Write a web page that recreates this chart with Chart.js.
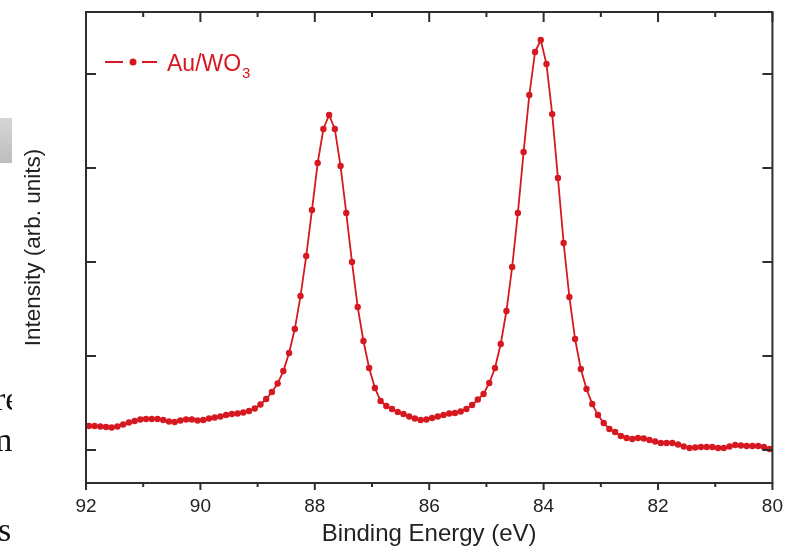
<!DOCTYPE html>
<html>
<head>
<meta charset="utf-8">
<title>Au 4f XPS</title>
<script src="https://cdn.jsdelivr.net/npm/chart.js@4.4.1/dist/chart.umd.min.js"></script>
<style>
  body { margin: 0; background: #fff; }
  #wrap { position: relative; width: 787px; height: 552px; overflow: hidden; }
  #xps { position: absolute; left: 0; top: 0; }
  .edge { position: absolute; left: 0; top: 0; width: 12px; height: 552px; overflow: hidden; }
  .edge .bar { position: absolute; left: 0; top: 118px; width: 12px; height: 45px; background: linear-gradient(#d6d6d6, #bdbdbd); }
  .edge span { position: absolute; font: 34px/34px 'Liberation Serif', 'Times New Roman', serif; color: #111; white-space: nowrap; }
</style>
</head>
<body>
<div id="wrap">
  <canvas id="xps" width="787" height="552"></canvas>
  <div class="edge">
    <div class="bar"></div>
    <span style="left:-6px; top:382px">re</span>
    <span style="left:-14px; top:423px">m</span>
    <span style="left:-2px; top:513px">s</span>
  </div>
</div>
<script>
// Au 4f region, 0.1 eV steps
const bindingEnergy = [
  91.95, 91.85, 91.75, 91.65, 91.55, 91.45, 91.35, 91.25, 91.15, 91.05,
  90.95, 90.85, 90.75, 90.65, 90.55, 90.45, 90.35, 90.25, 90.15, 90.05,
  89.95, 89.85, 89.75, 89.65, 89.55, 89.45, 89.35, 89.25, 89.15, 89.05,
  88.95, 88.85, 88.75, 88.65, 88.55, 88.45, 88.35, 88.25, 88.15, 88.05,
  87.95, 87.85, 87.75, 87.65, 87.55, 87.45, 87.35, 87.25, 87.15, 87.05,
  86.95, 86.85, 86.75, 86.65, 86.55, 86.45, 86.35, 86.25, 86.15, 86.05,
  85.95, 85.85, 85.75, 85.65, 85.55, 85.45, 85.35, 85.25, 85.15, 85.05,
  84.95, 84.85, 84.75, 84.65, 84.55, 84.45, 84.35, 84.25, 84.15, 84.05,
  83.95, 83.85, 83.75, 83.65, 83.55, 83.45, 83.35, 83.25, 83.15, 83.05,
  82.95, 82.85, 82.75, 82.65, 82.55, 82.45, 82.35, 82.25, 82.15, 82.05,
  81.95, 81.85, 81.75, 81.65, 81.55, 81.45, 81.35, 81.25, 81.15, 81.05,
  80.95, 80.85, 80.75, 80.65, 80.55, 80.45, 80.35, 80.25, 80.15, 80.05
];
const intensity = [
  255, 255, 250, 245, 239, 250, 271, 293, 309, 324,
  330, 330, 330, 319, 303, 298, 314, 324, 324, 314,
  319, 335, 346, 356, 372, 383, 388, 399, 415, 441,
  484, 543, 617, 707, 840, 1032, 1287, 1638, 2064, 2553,
  3053, 3415, 3564, 3415, 3021, 2521, 2000, 1521, 1160, 872,
  660, 521, 468, 436, 404, 383, 356, 335, 319, 324,
  340, 356, 372, 388, 394, 410, 436, 479, 537, 596,
  713, 872, 1128, 1479, 1947, 2521, 3170, 3777, 4234, 4362,
  4106, 3574, 2894, 2202, 1628, 1181, 862, 649, 489, 372,
  287, 223, 191, 149, 128, 117, 128, 122, 106, 90,
  74, 74, 74, 59, 37, 21, 27, 32, 32, 32,
  21, 21, 37, 53, 48, 43, 43, 43, 32, 11
];
const seriesLabel = 'Au/WO3';
const xTickValues = [92, 90, 88, 86, 84, 82, 80];
const yTickValues = [0, 1000, 2000, 3000, 4000];

const red = 'rgb(214, 24, 32)';
const axisColor = '#2e2e2e';
const family = "'Liberation Sans', Arial, Helvetica, sans-serif";

// box, in/out ticks and the legend entry
const framePlugin = {
  id: 'frame',
  afterDatasetsDraw(chart) {
    const { ctx, chartArea: a, scales: { x, y } } = chart;
    ctx.save();
    ctx.strokeStyle = axisColor;
    ctx.lineWidth = 2;
    ctx.strokeRect(a.left, a.top, a.right - a.left, a.bottom - a.top);

    ctx.beginPath();
    const vals = x.ticks.map(t => t.value);
    vals.forEach((v, i) => {
      const px = x.getPixelForValue(v);
      ctx.moveTo(px, a.bottom); ctx.lineTo(px, a.bottom + 7);
      ctx.moveTo(px, a.top); ctx.lineTo(px, a.top + 10);
      if (i < vals.length - 1) {
        const m = x.getPixelForValue((v + vals[i + 1]) / 2);
        ctx.moveTo(m, a.bottom); ctx.lineTo(m, a.bottom + 4);
        ctx.moveTo(m, a.top); ctx.lineTo(m, a.top + 5);
      }
    });
    y.ticks.forEach(t => {
      const py = y.getPixelForValue(t.value);
      ctx.moveTo(a.left, py); ctx.lineTo(a.left + 10, py);
      ctx.moveTo(a.right, py); ctx.lineTo(a.right - 10, py);
    });
    ctx.stroke();

    // legend: line - dot - line, then label with subscript
    const ds = chart.data.datasets[0];
    const ly = a.top + 50;
    ctx.strokeStyle = ds.borderColor;
    ctx.lineWidth = 2;
    ctx.beginPath();
    ctx.moveTo(a.left + 19, ly); ctx.lineTo(a.left + 37, ly);
    ctx.moveTo(a.left + 56, ly); ctx.lineTo(a.left + 71, ly);
    ctx.stroke();
    ctx.fillStyle = ds.backgroundColor;
    ctx.beginPath();
    ctx.arc(a.left + 47, ly, 3.5, 0, Math.PI * 2);
    ctx.fill();

    const [, main, sub] = ds.label.match(/^(.*?)(\d*)$/);
    ctx.textBaseline = 'alphabetic';
    ctx.textAlign = 'left';
    ctx.font = `23px ${family}`;
    const tx = a.left + 81;
    ctx.fillText(main, tx, a.top + 59);
    const w = ctx.measureText(main).width;
    ctx.font = `15px ${family}`;
    ctx.fillText(sub, tx + w + 1, a.top + 66);
    ctx.restore();
  }
};

new Chart(document.getElementById('xps'), {
  type: 'line',
  data: {
    datasets: [{
      label: seriesLabel,
      data: bindingEnergy.map((e, i) => ({ x: e, y: intensity[i] })),
      borderColor: red,
      backgroundColor: red,
      borderWidth: 1.8,
      pointRadius: 3.2,
      pointBorderWidth: 0,
      tension: 0
    }]
  },
  options: {
    responsive: false,
    animation: false,
    layout: { padding: { top: 12, right: 6, left: 0, bottom: 0 } },
    plugins: { legend: { display: false }, tooltip: { enabled: false } },
    scales: {
      x: {
        type: 'linear',
        reverse: true,
        min: 80,
        max: 92,
        grid: { display: false },
        border: { display: false },
        afterBuildTicks: s => { s.ticks = xTickValues.map(v => ({ value: v })); },
        afterFit: s => { s.height = 69; },
        ticks: { font: { family, size: 19 }, color: '#222', padding: 4, maxRotation: 0, autoSkip: false },
        title: {
          display: true, text: 'Binding Energy (eV)', color: '#222',
          font: { family, size: 24 }, padding: { top: 0, bottom: 3 }
        }
      },
      y: {
        min: -351,
        max: 4660,
        grid: { display: false },
        border: { display: false },
        afterBuildTicks: s => { s.ticks = yTickValues.map(v => ({ value: v })); },
        afterFit: s => { s.width = 86; },
        ticks: { display: false },
        title: {
          display: true, text: 'Intensity (arb. units)', color: '#222',
          font: { family, size: 22.5 }, padding: { top: 20, bottom: 0 }
        }
      }
    }
  },
  plugins: [framePlugin]
});
</script>
</body>
</html>
